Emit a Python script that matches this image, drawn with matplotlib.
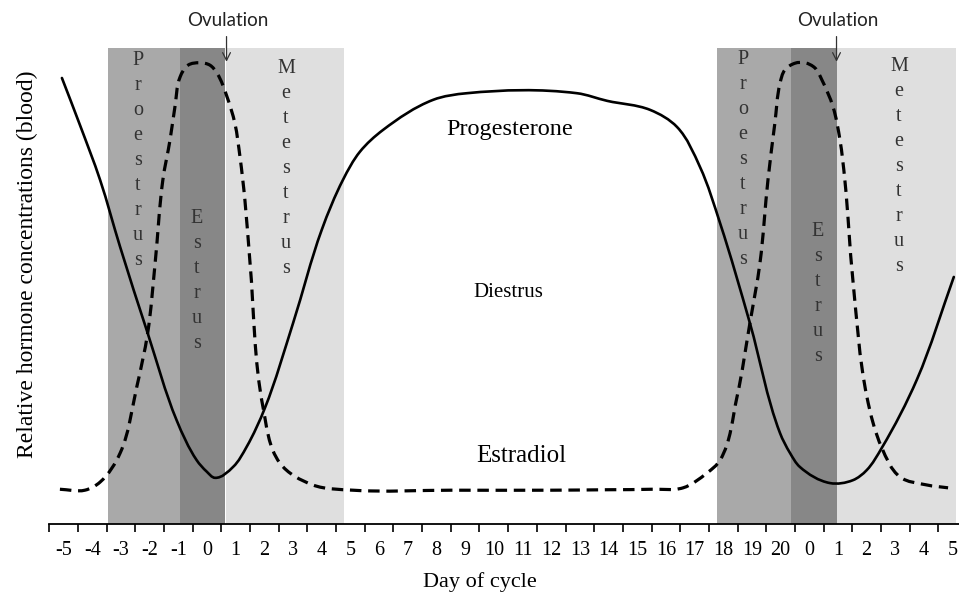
import matplotlib
matplotlib.use("Agg")
import matplotlib.pyplot as plt
from matplotlib.path import Path
from matplotlib.patches import PathPatch
import numpy as np

# day labels along the cycle (category axis, one slot per day)
day_labels = ['-5', '-4', '-3', '-2', '-1', '0', '1', '2', '3', '4', '5', '6', '7', '8',
              '9', '10', '11', '12', '13', '14', '15', '16', '17', '18', '19', '20',
              '0', '1', '2', '3', '4', '5']

# progesterone (solid), x in day slots, y relative level
prog_x = [-0.06, 0.57, 1.27, 1.97, 2.93, 3.94, 4.64, 4.99, 5.28, 5.91, 6.38, 7.02,
          8.0, 9.0, 9.74, 10.33, 11.14, 12.88, 14.06, 17.9, 18.95, 20.45, 21.39, 22.19,
          22.89, 23.93, 24.98, 25.33, 25.67, 26.72, 27.52, 28.0, 28.53, 29.75, 31.04]
prog_y = [93.7, 83.8, 72.3, 58.2, 40.1, 21.8, 13.4, 11.0, 9.7, 12.0, 16.2, 24.4,
          42.2, 61.8, 72.3, 78.2, 82.8, 89.1, 90.5, 90.5, 88.9, 87.0, 83.4, 75.0,
          63.2, 42.2, 19.1, 14.9, 12.0, 8.6, 9.2, 11.3, 16.0, 30.3, 51.9]

# estradiol (dashed)
estr_x = [-0.13, 0.74, 1.27, 1.97, 2.55, 2.93, 3.19, 3.46, 3.71, 3.88, 4.06, 4.34, 4.75,
          5.10, 5.35, 5.70, 5.97, 6.15, 6.32, 6.50, 6.95, 7.54, 8.69, 10.09, 13.5, 17.0,
          19.0, 20.5, 21.60, 22.43, 22.89, 23.48, 23.93, 24.28, 24.56, 24.80, 24.98, 25.15,
          25.50, 25.85, 26.20, 26.44, 26.83, 27.07, 27.24, 27.52, 28.01, 28.53, 29.16,
          30.10, 30.84]
estr_y = [7.3, 7.1, 8.8, 14.9, 28.8, 40.1, 54.8, 72.3, 80.7, 87.6, 93.9, 96.4, 96.9,
          96.4, 94.7, 89.7, 84.2, 77.1, 68.1, 54.8, 24.6, 12.8, 8.2, 7.1, 7.1, 7.1,
          7.2, 7.3, 7.6, 10.7, 13.4, 26.7, 42.2, 54.8, 72.3, 84.2, 92.6, 95.4,
          96.8, 96.9, 95.8, 93.3, 87.6, 80.7, 72.3, 51.3, 26.7, 16.0, 9.9,
          8.2, 7.6]

# phase bands (start, end, colour)
bands = [(1.56, 4.07, '#a9a9a9'), (4.07, 5.63, '#878787'), (5.66, 9.79, '#dfdfdf'),
         (22.78, 25.35, '#a9a9a9'), (25.35, 26.98, '#878787'), (26.98, 31.11, '#dfdfdf')]

# vertical phase words: word, x, baseline of first letter
phase_words = [('Proestrus', 2.59, 96.4), ('Estrus', 4.65, 63.2), ('Metestrus', 7.75, 94.7),
               ('Proestrus', 23.69, 96.6), ('Estrus', 26.30, 60.5), ('Metestrus', 29.13, 95.2)]

ovulation_x = [5.68, 26.95]

serif = 'Liberation Serif'


# smooth curve through the read points, drawn as cubic Bezier segments.
# tangents come from the mean of neighbouring chord directions, worked out
# in a roughly pixel-square space so uneven spacing gives no kinks
def smooth_path(xs, ys, sx=28.68, sy=4.76):
    q = np.column_stack([xs, ys]) * [sx, sy]
    n = len(q)
    chords = np.diff(q, axis=0)
    lens = np.hypot(chords[:, 0], chords[:, 1])
    units = chords / lens[:, None]
    tang = np.zeros_like(q)
    tang[0] = units[0]
    tang[-1] = units[-1]
    for i in range(1, n - 1):
        t = units[i - 1] + units[i]
        tang[i] = t / np.hypot(*t)
    verts = [q[0]]
    codes = [Path.MOVETO]
    for i in range(n - 1):
        d = lens[i] / 3
        verts += [q[i] + tang[i] * d, q[i + 1] - tang[i + 1] * d, q[i + 1]]
        codes += [Path.CURVE4] * 3
    verts = np.array(verts) / [sx, sy]
    return Path(verts, codes)


fig = plt.figure(figsize=(9.59, 5.92), dpi=100)
ax = fig.add_axes([49.3 / 959, 68 / 592, 917.7 / 959, 476 / 592])

for x0, x1, c in bands:
    ax.axvspan(x0, x1, ymin=0, ymax=1, color=c, lw=0, zorder=1)

step = 25 / 4.76
for word, x, y0 in phase_words:
    for i, ch in enumerate(word):
        ax.text(x, y0 - i * step, ch, ha='center', va='baseline', fontsize=14.5,
                family=serif, color='#333333', zorder=2)

ax.add_patch(PathPatch(smooth_path(prog_x, prog_y), fill=False, ec='black', lw=1.9,
                       zorder=3, capstyle='round'))
ax.add_patch(PathPatch(smooth_path(estr_x, estr_y), fill=False, ec='black', lw=2.3,
                       linestyle=(0, (3.6, 2.1)), zorder=3))

ax.text(15.56, 82.8, 'Progesterone', ha='center', va='center', fontsize=17.5, family=serif)
ax.text(15.49, 48.7, 'Diestrus', ha='center', va='center', fontsize=15, family=serif)
ax.text(15.95, 14.3, 'Estradiol', ha='center', va='center', fontsize=18, family=serif)

for ox in ovulation_x:
    ax.annotate('', xy=(ox, 97.1), xytext=(ox, 102.4), annotation_clip=False,
                arrowprops=dict(arrowstyle='->', lw=0.9, color='#333333',
                                shrinkA=0, shrinkB=0, mutation_scale=14))
    ax.text(ox + 0.05, 105.7, 'Ovulation', ha='center', va='center', fontsize=13.5,
            family='Lato', color='#222222', clip_on=False)

ax.set_xlim(-0.5, 31.5)
ax.set_ylim(0, 100)
for s in ['left', 'top', 'right']:
    ax.spines[s].set_visible(False)
ax.spines['bottom'].set_linewidth(1.3)
ax.set_yticks([])

ax.set_xticks(np.arange(-0.5, 32, 1))
ax.set_xticklabels([])
ax.tick_params(axis='x', which='major', length=6, width=1.2, direction='out')
ax.set_xticks(np.arange(len(day_labels)), minor=True)
ax.set_xticklabels(day_labels, minor=True, family=serif, fontsize=14.5)
ax.tick_params(axis='x', which='minor', length=0, pad=12)

fig.text(480 / 959, 1 - 582 / 592, 'Day of cycle', ha='center', va='center',
         fontsize=16, family=serif)
fig.text(27 / 959, 1 - 264 / 592, 'Relative hormone concentrations (blood)', ha='center',
         va='center', rotation=90, fontsize=17, family=serif)

fig.savefig('out.png', dpi=100)
